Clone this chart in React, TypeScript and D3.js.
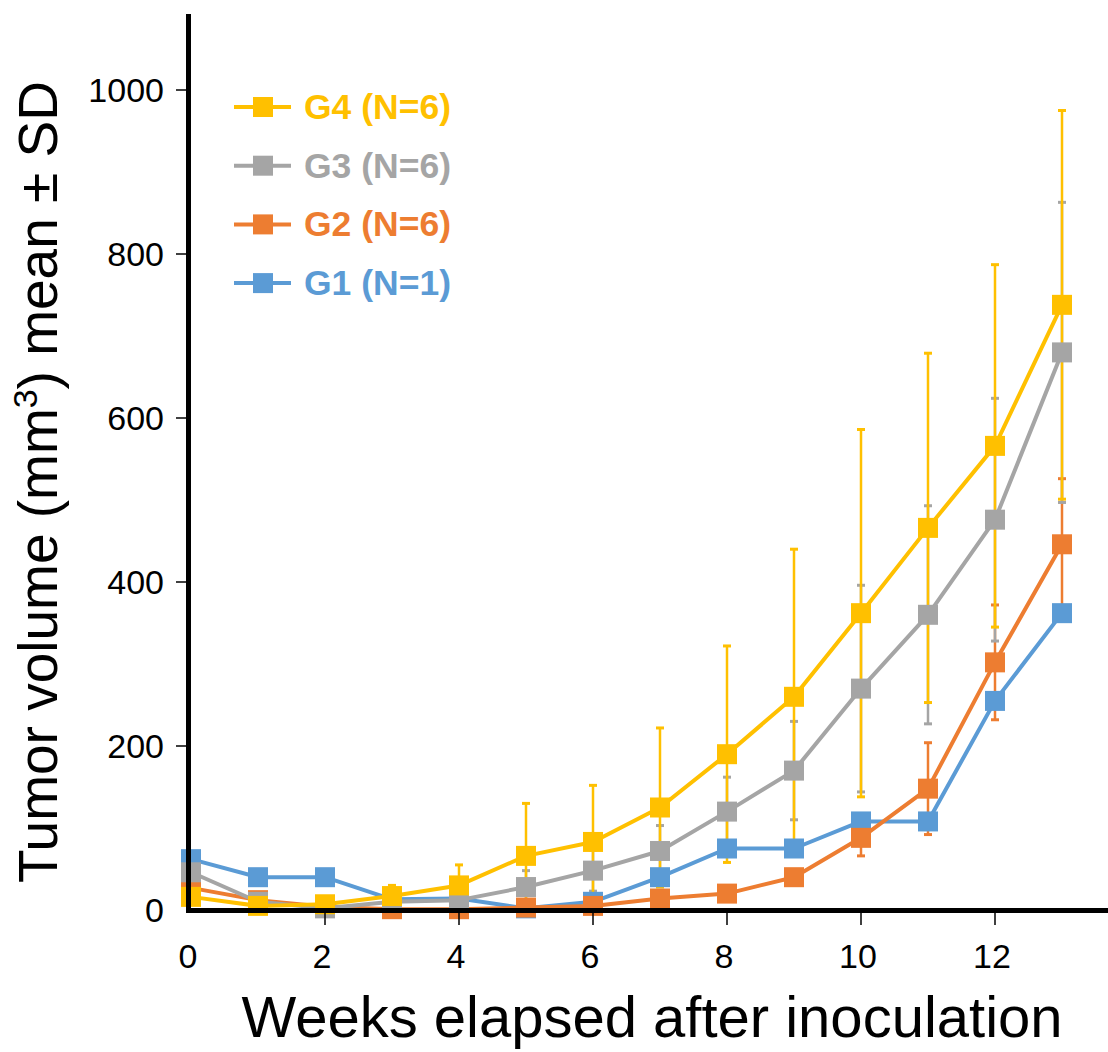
import * as d3 from 'd3';

const weeks = [0, 1, 2, 3, 4, 5, 6, 7, 8, 9, 10, 11, 12, 13];

const g1 = [62, 40, 40, 13, 14, 2, 10, 40, 75, 75, 108, 108, 255, 362];
const g2 = [27, 12, 4, 1, 1, 3, 5, 14, 20, 40, 88, 148, 302, 446];
const g2sd = [6, 5, 3, 2, 2, 3, 3, 5, 6, 8, 22, 56, 70, 80];
const g3 = [46, 10, 2, 10, 12, 28, 48, 72, 120, 170, 270, 360, 476, 680];
const g3sd = [10, 5, 3, 4, 5, 20, 25, 31, 42, 60, 126, 133, 148, 183];
const g4 = [16, 5, 7, 17, 30, 66, 83, 125, 190, 260, 362, 466, 566, 738];
const g4sd = [6, 4, 4, 13, 25, 64, 69, 97, 132, 180, 224, 213, 221, 237];

const yTicks = [0, 200, 400, 600, 800, 1000];
const xTicks = [0, 2, 4, 6, 8, 10, 12];

const series = [
  { name: 'G1 (N=1)', color: '#5B9BD5', values: g1, sd: null as number[] | null },
  { name: 'G2 (N=6)', color: '#ED7D31', values: g2, sd: g2sd },
  { name: 'G3 (N=6)', color: '#A5A5A5', values: g3, sd: g3sd },
  { name: 'G4 (N=6)', color: '#FFC000', values: g4, sd: g4sd },
];

const FONT = '"Liberation Sans", Arial, Helvetica, sans-serif';

export default function App() {
  const width = 1108;
  const height = 1052;

  const x = d3.scaleLinear().domain([0, 13]).range([191, 1062]);
  const y = d3.scaleLinear().domain([0, 1000]).range([910, 90]);

  const line = d3
    .line<number>()
    .x((_, i) => x(weeks[i]))
    .y((d) => y(d));

  const legendOrder = [...series].reverse();
  const m = 20; // marker size

  return (
    <svg width={width} height={height} style={{ display: 'block', position: 'absolute', left: 0, top: 0 }}>
      <rect width={width} height={height} fill="#fff" />

      {/* error bars */}
      {series.map((s) =>
        s.sd ? (
          <g key={'err' + s.name} stroke={s.color}>
            {s.values.map((v, i) => {
              const cx = x(weeks[i]);
              const top = y(v + s.sd![i]);
              const bot = y(Math.max(0, v - s.sd![i]));
              return (
                <g key={i}>
                  <line x1={cx} x2={cx} y1={top} y2={bot} strokeWidth={2.5} />
                  <line x1={cx - 4} x2={cx + 4} y1={top} y2={top} strokeWidth={3} />
                  <line x1={cx - 4} x2={cx + 4} y1={bot} y2={bot} strokeWidth={3} />
                </g>
              );
            })}
          </g>
        ) : null
      )}

      {/* lines and markers */}
      {series.map((s) => (
        <g key={s.name}>
          <path d={line(s.values) || ''} fill="none" stroke={s.color} strokeWidth={4} strokeLinejoin="round" />
          {s.values.map((v, i) => (
            <rect key={i} x={x(weeks[i]) - m / 2} y={y(v) - m / 2} width={m} height={m} fill={s.color} />
          ))}
        </g>
      ))}

      {/* axes */}
      <g stroke="#000">
        <line x1={188.5} x2={188.5} y1={14} y2={913} strokeWidth={5} />
        <line x1={186} x2={1108} y1={910.5} y2={910.5} strokeWidth={5} />
        {yTicks.slice(1).map((t) => (
          <line key={t} x1={176} x2={186} y1={y(t)} y2={y(t)} strokeWidth={1.5} />
        ))}
        {xTicks.slice(1).map((t) => (
          <line key={t} x1={x(t)} x2={x(t)} y1={913} y2={925} strokeWidth={1.5} />
        ))}
      </g>

      <g fontFamily={FONT} fontSize={34} fill="#000">
        {yTicks.map((t) => (
          <text key={t} x={164} y={y(t)} textAnchor="end" dominantBaseline="central">
            {t}
          </text>
        ))}
        {xTicks.map((t) => (
          <text key={t} x={x(t) - 3} y={968} textAnchor="middle">
            {t}
          </text>
        ))}
      </g>

      <text x={652} y={1037} textAnchor="middle" fontFamily={FONT} fontSize={58} fill="#000">
        Weeks elapsed after inoculation
      </text>

      <text
        transform="translate(57,482) rotate(-90)"
        textAnchor="middle"
        fontFamily={FONT}
        fontSize={55}
        fill="#000"
      >
        Tumor volume (mm
        <tspan dy={-20} fontSize={34}>3</tspan>
        <tspan dy={20}>) mean ± SD</tspan>
      </text>

      {/* legend */}
      {legendOrder.map((s, i) => {
        const ly = 107 + i * 58.7;
        return (
          <g key={'lg' + s.name}>
            <line x1={234} x2={291} y1={ly} y2={ly} stroke={s.color} strokeWidth={4} />
            <rect x={263 - m / 2} y={ly - m / 2} width={m} height={m} fill={s.color} />
            <text
              x={304}
              y={ly}
              dominantBaseline="central"
              fontFamily={FONT}
              fontSize={35.5}
              fontWeight="bold"
              fill={s.color}
            >
              {s.name}
            </text>
          </g>
        );
      })}
    </svg>
  );
}
